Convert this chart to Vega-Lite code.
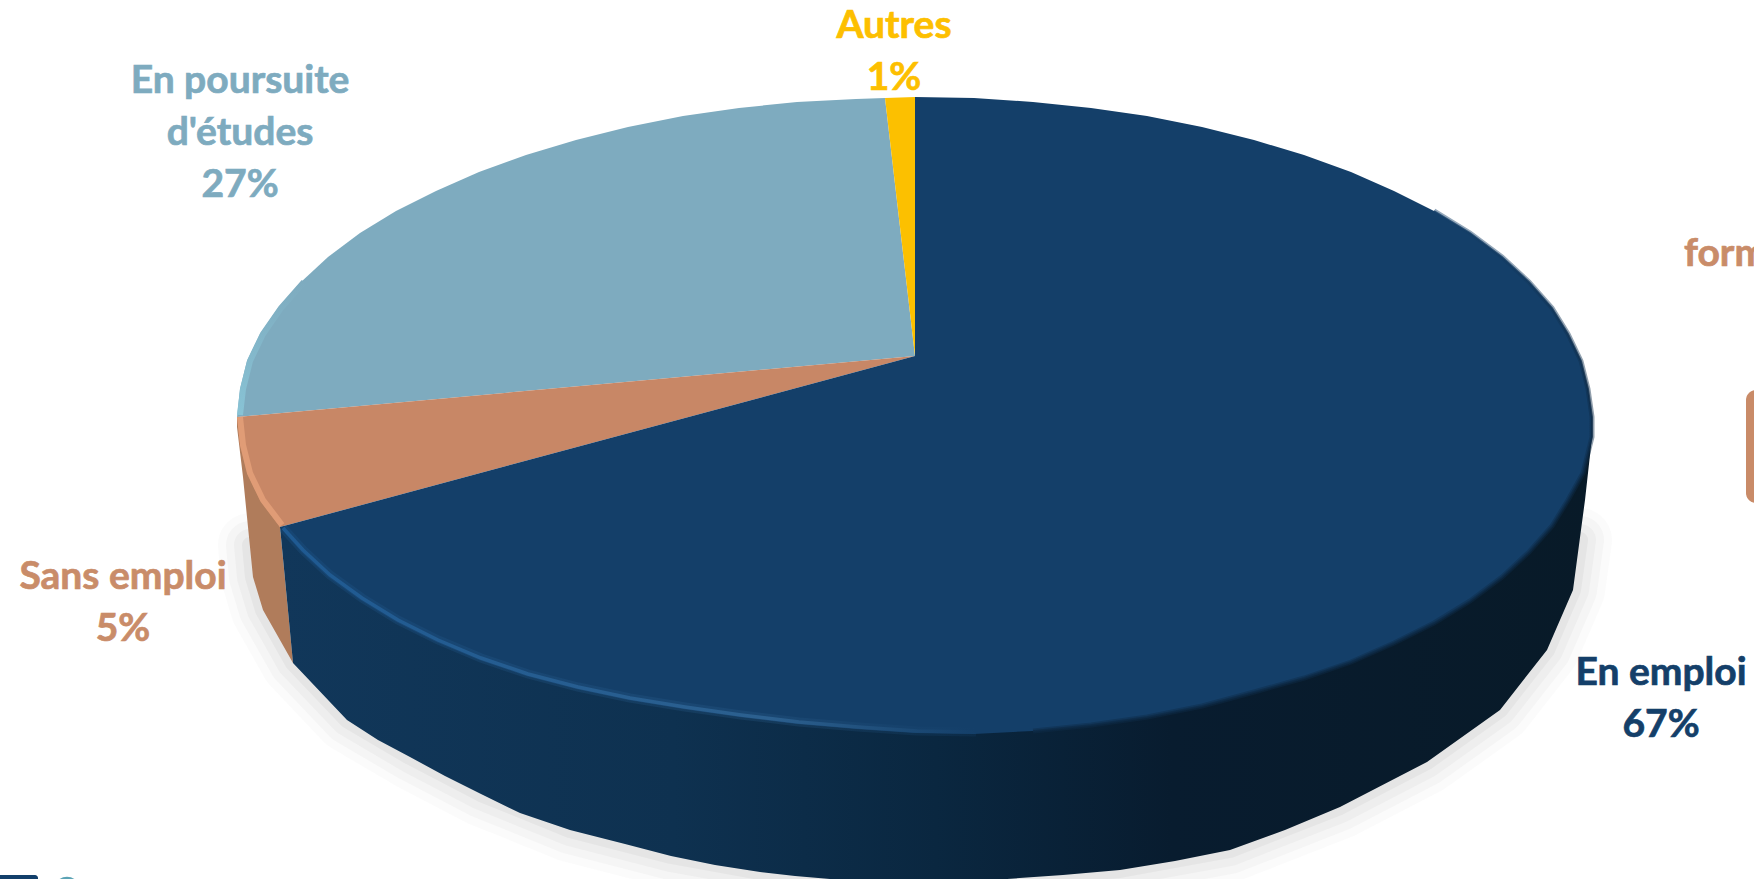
{
"$schema":"https://vega.github.io/schema/vega-lite/v6.json",
"width":1754,"height":879,"autosize":{"type":"fit","contains":"padding"},"padding":0,
"background":"#ffffff","view":{"stroke":null},
"datasets":{
"emploi":[{"i":0,"x":915,"y":356},{"i":1,"x":915,"y":97},{"i":2,"x":974,"y":98},{"i":3,"x":1033,"y":102},{"i":4,"x":1091,"y":108},{"i":5,"x":1147,"y":116},{"i":6,"x":1202,"y":127},{"i":7,"x":1254,"y":140},{"i":8,"x":1304,"y":155},{"i":9,"x":1351,"y":172},{"i":10,"x":1394,"y":191},{"i":11,"x":1434,"y":211},{"i":12,"x":1470,"y":233},{"i":13,"x":1502,"y":257},{"i":14,"x":1529,"y":282},{"i":15,"x":1552,"y":308},{"i":16,"x":1568,"y":334},{"i":17,"x":1581,"y":361},{"i":18,"x":1588,"y":389},{"i":19,"x":1592,"y":417},{"i":20,"x":1592,"y":437},{"i":21,"x":1583,"y":473},{"i":22,"x":1568,"y":500},{"i":23,"x":1552,"y":526},{"i":24,"x":1529,"y":552},{"i":25,"x":1502,"y":577},{"i":26,"x":1470,"y":601},{"i":27,"x":1434,"y":623},{"i":28,"x":1394,"y":643},{"i":29,"x":1351,"y":662},{"i":30,"x":1304,"y":678},{"i":31,"x":1254,"y":692},{"i":32,"x":1202,"y":706},{"i":33,"x":1147,"y":717},{"i":34,"x":1091,"y":725},{"i":35,"x":1033,"y":731},{"i":36,"x":974,"y":734},{"i":37,"x":915,"y":733},{"i":38,"x":856,"y":729},{"i":39,"x":797,"y":724},{"i":40,"x":739,"y":717},{"i":41,"x":683,"y":709},{"i":42,"x":628,"y":700},{"i":43,"x":576,"y":689},{"i":44,"x":526,"y":676},{"i":45,"x":479,"y":660},{"i":46,"x":436,"y":642},{"i":47,"x":396,"y":622},{"i":48,"x":360,"y":600},{"i":49,"x":328,"y":577},{"i":50,"x":301,"y":552},{"i":51,"x":280,"y":527}],
"poursuite":[{"i":0,"x":915,"y":356},{"i":1,"x":237,"y":417},{"i":2,"x":240,"y":389},{"i":3,"x":247,"y":361},{"i":4,"x":260,"y":334},{"i":5,"x":278,"y":308},{"i":6,"x":301,"y":282},{"i":7,"x":328,"y":257},{"i":8,"x":360,"y":233},{"i":9,"x":396,"y":211},{"i":10,"x":436,"y":191},{"i":11,"x":479,"y":172},{"i":12,"x":526,"y":155},{"i":13,"x":576,"y":140},{"i":14,"x":628,"y":127},{"i":15,"x":683,"y":116},{"i":16,"x":739,"y":108},{"i":17,"x":797,"y":102},{"i":18,"x":856,"y":99},{"i":19,"x":885,"y":98}],
"sans":[{"i":0,"x":915,"y":356},{"i":1,"x":280,"y":527},{"i":2,"x":260,"y":500},{"i":3,"x":247,"y":473},{"i":4,"x":240,"y":445},{"i":5,"x":237,"y":417}],
"autres":[{"i":0,"x":915,"y":356},{"i":1,"x":885,"y":98},{"i":2,"x":915,"y":97}],
"wall":[{"i":0,"x":280,"y":527},{"i":1,"x":1590,"y":417},{"i":2,"x":1592,"y":437},{"i":3,"x":1585,"y":500},{"i":4,"x":1573,"y":590},{"i":5,"x":1547,"y":650},{"i":6,"x":1500,"y":710},{"i":7,"x":1427,"y":762},{"i":8,"x":1340,"y":807},{"i":9,"x":1285,"y":830},{"i":10,"x":1230,"y":850},{"i":11,"x":1175,"y":861},{"i":12,"x":1120,"y":870},{"i":13,"x":1063,"y":875},{"i":14,"x":1007,"y":879},{"i":15,"x":960,"y":881},{"i":16,"x":915,"y":882},{"i":17,"x":872,"y":880},{"i":18,"x":830,"y":879},{"i":19,"x":795,"y":876},{"i":20,"x":760,"y":872},{"i":21,"x":715,"y":865},{"i":22,"x":671,"y":856},{"i":23,"x":625,"y":844},{"i":24,"x":570,"y":830},{"i":25,"x":520,"y":813},{"i":26,"x":481,"y":794},{"i":27,"x":445,"y":776},{"i":28,"x":410,"y":757},{"i":29,"x":378,"y":740},{"i":30,"x":347,"y":720},{"i":31,"x":293,"y":663}],
"wallSans":[{"i":0,"x":237,"y":417},{"i":1,"x":280,"y":527},{"i":2,"x":293,"y":663},{"i":3,"x":263,"y":610},{"i":4,"x":253,"y":577},{"i":5,"x":243,"y":477},{"i":6,"x":237,"y":427}],
"shadow":[{"i":0,"x":250,"y":545},{"i":1,"x":253,"y":577},{"i":2,"x":263,"y":610},{"i":3,"x":293,"y":663},{"i":4,"x":347,"y":720},{"i":5,"x":410,"y":757},{"i":6,"x":481,"y":794},{"i":7,"x":570,"y":830},{"i":8,"x":671,"y":856},{"i":9,"x":760,"y":872},{"i":10,"x":830,"y":879},{"i":11,"x":915,"y":882},{"i":12,"x":1007,"y":879},{"i":13,"x":1120,"y":870},{"i":14,"x":1230,"y":850},{"i":15,"x":1340,"y":807},{"i":16,"x":1427,"y":762},{"i":17,"x":1500,"y":710},{"i":18,"x":1547,"y":650},{"i":19,"x":1573,"y":590},{"i":20,"x":1580,"y":540}],
"rimFront":[{"i":0,"x":283,"y":528},{"i":1,"x":303,"y":550},{"i":2,"x":330,"y":575},{"i":3,"x":362,"y":598},{"i":4,"x":398,"y":620},{"i":5,"x":438,"y":640},{"i":6,"x":481,"y":658},{"i":7,"x":528,"y":674},{"i":8,"x":578,"y":687},{"i":9,"x":630,"y":698},{"i":10,"x":685,"y":707},{"i":11,"x":741,"y":715},{"i":12,"x":799,"y":722},{"i":13,"x":858,"y":727},{"i":14,"x":917,"y":731},{"i":15,"x":976,"y":732}],
"rimSans":[{"i":0,"x":240,"y":417},{"i":1,"x":243,"y":445},{"i":2,"x":250,"y":473},{"i":3,"x":263,"y":500},{"i":4,"x":282,"y":525}],
"rimPours":[{"i":0,"x":240,"y":415},{"i":1,"x":243,"y":389},{"i":2,"x":250,"y":361},{"i":3,"x":263,"y":334},{"i":4,"x":281,"y":308},{"i":5,"x":304,"y":282}],
"rimRight":[{"i":0,"x":1434,"y":211},{"i":1,"x":1470,"y":233},{"i":2,"x":1502,"y":257},{"i":3,"x":1529,"y":282},{"i":4,"x":1552,"y":308},{"i":5,"x":1568,"y":334},{"i":6,"x":1581,"y":361},{"i":7,"x":1588,"y":389},{"i":8,"x":1592,"y":417},{"i":9,"x":1592,"y":437},{"i":10,"x":1583,"y":473},{"i":11,"x":1568,"y":500},{"i":12,"x":1552,"y":526},{"i":13,"x":1529,"y":552},{"i":14,"x":1502,"y":577},{"i":15,"x":1470,"y":601},{"i":16,"x":1434,"y":623},{"i":17,"x":1394,"y":643},{"i":18,"x":1351,"y":662},{"i":19,"x":1304,"y":678},{"i":20,"x":1254,"y":692},{"i":21,"x":1202,"y":706},{"i":22,"x":1147,"y":717},{"i":23,"x":1091,"y":725},{"i":24,"x":1033,"y":731}],
"labels":[
{"x":894,"y":38,"text":"Autres","c":"autres"},{"x":894,"y":90,"text":"1%","c":"autres"},
{"x":240,"y":93,"text":"En poursuite","c":"poursuite"},{"x":240,"y":145,"text":"d'études","c":"poursuite"},{"x":240,"y":197,"text":"27%","c":"poursuite"},
{"x":123,"y":589,"text":"Sans emploi","c":"sans"},{"x":123,"y":641,"text":"5%","c":"sans"},
{"x":1661,"y":685,"text":"En emploi","c":"emploi"},{"x":1661,"y":737,"text":"67%","c":"emploi"}]
},
"encoding":{
"x":{"field":"x","type":"quantitative","axis":null,"scale":{"domain":[0,1754],"nice":false,"zero":false}},
"y":{"field":"y","type":"quantitative","axis":null,"scale":{"domain":[879,0],"nice":false,"zero":false}}
},
"layer":[
{"data":{"name":"shadow"},"mark":{"type":"line","stroke":"#808080","strokeWidth":64,"opacity":0.035,"strokeJoin":"round","strokeCap":"round","clip":true},"encoding":{"order":{"field":"i"}}},
{"data":{"name":"shadow"},"mark":{"type":"line","stroke":"#808080","strokeWidth":48,"opacity":0.05,"strokeJoin":"round","strokeCap":"round","clip":true},"encoding":{"order":{"field":"i"}}},
{"data":{"name":"shadow"},"mark":{"type":"line","stroke":"#808080","strokeWidth":32,"opacity":0.06,"strokeJoin":"round","strokeCap":"round","clip":true},"encoding":{"order":{"field":"i"}}},
{"data":{"name":"shadow"},"mark":{"type":"line","stroke":"#808080","strokeWidth":16,"opacity":0.08,"strokeJoin":"round","strokeCap":"round","clip":true},"encoding":{"order":{"field":"i"}}},
{"data":{"name":"wallSans"},"mark":{"type":"line","fill":"#b07c5b","stroke":null,"clip":true},"encoding":{"order":{"field":"i"}}},
{"data":{"name":"wall"},"mark":{"type":"line","stroke":null,"clip":true,"fill":{"gradient":"linear","x1":0,"x2":1,"y1":0,"y2":0,"stops":[{"offset":0,"color":"#11375a"},{"offset":0.3,"color":"#0e3150"},{"offset":0.5,"color":"#0a2740"},{"offset":0.68,"color":"#081c2f"},{"offset":1,"color":"#081a28"}]}},"encoding":{"order":{"field":"i"}}},
{"data":{"name":"poursuite"},"mark":{"type":"line","fill":"#7eabbf","stroke":null},"encoding":{"order":{"field":"i"}}},
{"data":{"name":"sans"},"mark":{"type":"line","fill":"#c88766","stroke":null},"encoding":{"order":{"field":"i"}}},
{"data":{"name":"autres"},"mark":{"type":"line","fill":"#fcc000","stroke":null},"encoding":{"order":{"field":"i"}}},
{"data":{"name":"emploi"},"mark":{"type":"line","fill":"#143f69","stroke":null},"encoding":{"order":{"field":"i"}}},
{"data":{"name":"rimRight"},"mark":{"type":"line","strokeWidth":5,"opacity":0.45,"stroke":{"gradient":"linear","x1":0,"x2":0,"y1":0,"y2":1,"stops":[{"offset":0,"color":"#143f69"},{"offset":0.35,"color":"#0d2b48"},{"offset":1,"color":"#0d2b48"}]}},"encoding":{"order":{"field":"i"}}},
{"data":{"name":"rimRight"},"mark":{"type":"line","strokeWidth":2,"opacity":0.8,"stroke":{"gradient":"linear","x1":0,"x2":0,"y1":0,"y2":1,"stops":[{"offset":0,"color":"#143f69"},{"offset":0.35,"color":"#0d2b48"},{"offset":1,"color":"#0d2b48"}]}},"encoding":{"order":{"field":"i"}}},
{"data":{"name":"rimFront"},"mark":{"type":"line","strokeWidth":9,"opacity":0.25,"stroke":{"gradient":"linear","x1":0,"x2":1,"y1":0,"y2":0,"stops":[{"offset":0,"color":"#1f5a92"},{"offset":0.7,"color":"#2c608f"},{"offset":1,"color":"#143f69"}]}},"encoding":{"order":{"field":"i"}}},
{"data":{"name":"rimFront"},"mark":{"type":"line","strokeWidth":3.5,"stroke":{"gradient":"linear","x1":0,"x2":1,"y1":0,"y2":0,"stops":[{"offset":0,"color":"#1f5a92"},{"offset":0.7,"color":"#2c608f"},{"offset":1,"color":"#143f69"}]}},"encoding":{"order":{"field":"i"}}},
{"data":{"name":"rimSans"},"mark":{"type":"line","stroke":"#e09c76","strokeWidth":6},"encoding":{"order":{"field":"i"}}},
{"data":{"name":"rimPours"},"mark":{"type":"line","strokeWidth":6,"stroke":{"gradient":"linear","x1":0,"x2":0,"y1":1,"y2":0,"stops":[{"offset":0,"color":"#88c3d5"},{"offset":1,"color":"#7eabbf"}]}},"encoding":{"order":{"field":"i"}}},
{"data":{"values":[{"x":1746,"x2":1790,"y":390,"y2":503}]},"mark":{"type":"rect","color":"#c98b68","cornerRadius":10,"clip":true},"encoding":{"x2":{"field":"x2"},"y2":{"field":"y2"}}},
{"data":{"values":[{"x":-10,"x2":38,"y":875,"y2":900}]},"mark":{"type":"rect","color":"#123f6b","cornerRadius":3,"clip":true},"encoding":{"x2":{"field":"x2"},"y2":{"field":"y2"}}},
{"data":{"values":[{"x":67,"y":890}]},"mark":{"type":"point","filled":true,"color":"#5ba3b5","size":700,"opacity":1,"clip":true}},
{"data":{"values":[{"x":1684,"y":266,"text":"form"}]},"mark":{"type":"text","font":"Lato","fontWeight":"bold","fontSize":39,"align":"left","baseline":"alphabetic","color":"#c98c69","stroke":"#c98c69","strokeWidth":0.7,"clip":true},"encoding":{"text":{"field":"text"}}},
{"data":{"name":"labels"},"mark":{"type":"text","font":"Lato","fontWeight":"bold","fontSize":39,"align":"center","baseline":"alphabetic","strokeWidth":0.7},"encoding":{"text":{"field":"text"},"color":{"field":"c","type":"nominal","legend":null,"scale":{"domain":["autres","poursuite","sans","emploi"],"range":["#fdbf00","#7eabbf","#c98c69","#143f69"]}},"stroke":{"field":"c","type":"nominal","legend":null,"scale":{"domain":["autres","poursuite","sans","emploi"],"range":["#fdbf00","#7eabbf","#c98c69","#143f69"]}}}}
]
}
